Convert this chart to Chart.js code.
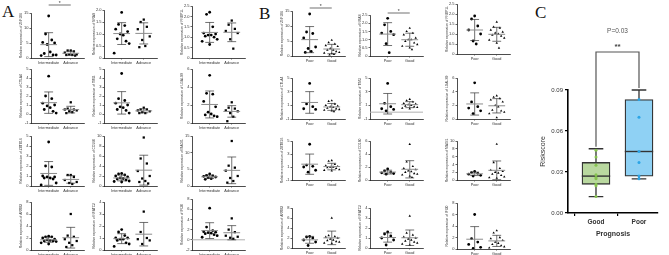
<!DOCTYPE html>
<html lang="en">
<head>
<meta charset="UTF-8">
<title>Relative expression and riskscore</title>
<script src="https://cdn.jsdelivr.net/npm/chart.js"></script>
<style>
  body { margin: 0; width: 669px; height: 255px; overflow: hidden; background: #fff; position: relative; }
  .letter { position: absolute; font-family: "Liberation Serif", "DejaVu Serif", serif; font-size: 17px; line-height: 1; color: #111; }
  canvas { position: absolute; }
</style>
</head>
<body>
<div class="letter" style="left:2px;top:3px">A</div>
<div class="letter" style="left:259px;top:5px">B</div>
<div class="letter" style="left:535px;top:4px">C</div>

<script>
// ---- data ----
const genes = ['ZNF366', 'NRAS', 'FNBP1L', 'CTLA4', 'TIM3', 'LGALS9', 'ZBTB16', 'CD160', 'MAGI1', 'ARRB2', 'NFATC2', 'IFI30'];
const groupsA = ['Intermediate', 'Advance'];
const groupsB = ['Poor', 'Good'];

// [min, max, step]
const axisA = [[0,15,5],[0,2,0.5],[0,2.5,0.5],[-1,5,1],[-1,5,1],[0,6,2],[0,5,1],[0,10,2],[0,15,5],[0,8,2],[0,4,1],[-2,8,2]];
const axisB = [[0,15,5],[0,2.5,0.5],[0,2.5,0.5],[-1,5,1],[-1,5,1],[0,6,2],[-1,5,1],[0,6,2],[0,10,2],[0,8,2],[0,4,1],[0,8,2]];

const intermediate = [
  [14, 8, 6, 5.2, 5, 4.5, 2, 1.5, 1, 1, 0.8],
  [1.9, 1.4, 1.35, 1.2, 1.1, 1.0, 0.95, 0.8, 0.7, 0.6, 0.2],
  [2.2, 2.1, 1.5, 1.2, 1.15, 1.1, 1.1, 1.05, 1.0, 0.9, 0.8, 0.65],
  [4.2, 2.0, 1.7, 1.2, 1.0, 0.9, 0.7, 0.5, 0.3, 0.1],
  [4.5, 1.7, 1.5, 1.2, 1.0, 0.8, 0.7, 0.5, 0.4, 0.1],
  [5.3, 3.3, 3.2, 2.4, 1.8, 1.2, 1.0, 0.9, 0.8, 0.7],
  [4.4, 2.0, 1.9, 1.0, 0.9, 0.9, 0.8, 0.8, 0.7, 0.3, 0.1],
  [2.5, 2.4, 2.2, 2.0, 1.8, 1.6, 1.5, 1.4, 1.2, 1.0, 0.9, 0.8],
  [3.6, 3.2, 3.0, 2.9, 2.7, 2.5, 2.2, 2.0],
  [2.3, 2.2, 2.2, 2.0, 1.8, 1.7, 1.6, 1.5, 1.5, 1.4, 1.2, 1.0],
  [1.7, 1.5, 1.2, 1.0, 1.0, 0.9, 0.9, 0.8, 0.6, 0.5, 0.3],
  [6.2, 2.5, 1.8, 1.6, 1.5, 1.4, 1.3, 1.2, 1.0, 0.8, 0.5]
];
const advance = [
  [2.5, 2.5, 2.2, 1.8, 1.2, 1.2, 1.0, 1.0, 0.8],
  [1.6, 1.5, 1.3, 1.2, 0.9, 0.75, 0.5, 0.45],
  [1.8, 1.6, 1.4, 1.3, 1.2, 0.9, 0.45],
  [1.3, 0.6, 0.5, 0.5, 0.4, 0.3, 0.2, 0.1],
  [0.7, 0.5, 0.5, 0.4, 0.3, 0.2, 0.1, 0.1],
  [2.3, 1.7, 1.6, 1.4, 1.3, 1.1, 0.7, 0.2],
  [1.1, 1.1, 0.9, 0.6, 0.4, 0.3, 0.2],
  [9.7, 5.5, 4.5, 3.0, 2.0, 1.5, 1.0, 0.8, 0.5],
  [13.5, 6.1, 5.5, 4.6, 3.0, 2.4, 1.5, 1.0],
  [6.0, 2.4, 2.2, 1.8, 1.5, 1.2, 0.8, 0.5],
  [3.2, 1.5, 1.0, 0.9, 0.8, 0.5],
  [4.2, 2.0, 1.5, 0.8, 0.6, 0.4, 0.2]
];
const poor = [
  [14, 8, 7.5, 6, 3, 2.5, 1.5, 1.2],
  [2.3, 1.9, 1.5, 1.4, 1.3, 0.75, 0.2],
  [1.9, 1.75, 1.4, 1.2, 1.0, 0.65, 0.5],
  [4.2, 1.2, 0.8, 0.5, 0.4],
  [4.2, 1.3, 0.8, 0.5, 0.4, 0.2],
  [5.3, 2.5, 1.8, 1.6, 1.2, 0.8],
  [4.5, 1.3, 1.1, 1.0, 0.5, 0.2],
  [1.7, 1.4, 1.2, 1.1, 1.0, 0.9],
  [2.2, 1.9, 1.7, 1.5, 1.2, 1.0],
  [2.3, 2.2, 2.0, 1.6, 1.2, 0.5],
  [1.6, 1.4, 1.2, 1.0, 0.8, 0.3],
  [6.0, 1.8, 1.2, 0.8, 0.3, 0.1]
];
const good = [
  [5.3, 4.5, 4.0, 3.5, 3.2, 2.5, 2.0, 2.0, 1.5, 1.2, 1.0, 0.8, 0.6, 0.4],
  [1.7, 1.5, 1.4, 1.3, 1.1, 1.0, 1.0, 0.9, 0.8, 0.7, 0.6, 0.5, 0.4],
  [1.6, 1.35, 1.3, 1.2, 1.1, 1.05, 1.0, 0.95, 0.9, 0.8, 0.7, 0.55, 0.3],
  [1.7, 1.6, 1.2, 1.0, 0.9, 0.8, 0.7, 0.6, 0.5, 0.4, 0.3, 0.2, 0.1],
  [1.9, 1.7, 1.5, 1.3, 1.2, 1.1, 1.0, 0.9, 0.8, 0.7, 0.6, 0.5],
  [3.4, 3.2, 3.0, 2.8, 2.5, 2.0, 1.8, 1.3, 1.2, 1.0, 0.8, 0.2],
  [2.0, 1.9, 1.4, 1.2, 1.1, 1.0, 1.0, 0.9, 0.8, 0.6, 0.5, 0.4],
  [5.5, 2.8, 2.1, 1.8, 1.6, 1.4, 1.3, 1.2, 1.0, 0.9, 0.8, 0.6, 0.4],
  [9.2, 4.5, 3.0, 2.5, 2.2, 2.0, 1.8, 1.5, 1.2, 0.8, 0.6, 0.5],
  [6.0, 2.5, 2.3, 2.2, 2.0, 1.8, 1.6, 1.5, 1.3, 1.2, 1.0, 0.9],
  [3.2, 1.5, 1.3, 1.1, 1.0, 0.9, 0.8, 0.7, 0.6, 0.5, 0.4, 0.3],
  [3.2, 2.8, 2.0, 1.8, 1.5, 1.2, 1.0, 0.8, 0.6, 0.4, 0.2]
];

// panel C
const prognosis = ['Good', 'Poor'];
const riskGood = [0.046, 0.041, 0.035, 0.028, 0.026, 0.025, 0.021, 0.020, 0.012];
const riskPoor = [0.083, 0.070, 0.045, 0.037, 0.027, 0.025];
const boxMin = [0.012, 0.025];
const boxQ1 = [0.021, 0.027];
const boxMed = [0.027, 0.045];
const boxQ3 = [0.037, 0.083];
const boxMax = [0.047, 0.090];

// ---- layout (pixels on the page) ----
const colXA = [31, 104, 192], colXB = [292, 370, 457];
const topA = [13,10,6, 69,69,69, 136,136,136, 202,202,199];
const botA = [57,57,57, 122,122,122, 185,185,185, 249,249,249];
const topB = [11,15,4, 78,78,78, 141,141,141, 208,208,203];
const botB = [55,55,53, 118,118,118, 179,179,179, 247,247,248];
const jitter = [0, -0.14, 0.14, -0.27, 0.27, -0.07, 0.07, -0.2, 0.2, 0.34, -0.34, 0, 0.1, -0.1];

Chart.defaults.font.family = '"Liberation Sans", Arial, sans-serif';

const meanSd = {
  id: 'meanSd',
  beforeDatasetsDraw(chart, args, opts) {
    if (!opts.zero) return;
    const {ctx, chartArea, scales: {y}} = chart;
    const y0 = y.getPixelForValue(0);
    ctx.save();
    ctx.strokeStyle = '#b0b0b0';
    ctx.lineWidth = 1;
    ctx.beginPath(); ctx.moveTo(chartArea.left, y0); ctx.lineTo(chartArea.right, y0); ctx.stroke();
    ctx.restore();
  },
  afterDatasetsDraw(chart, args, opts) {
    const {ctx, chartArea, scales: {x, y}} = chart;
    ctx.save();
    ctx.beginPath();
    ctx.rect(chartArea.left, chartArea.top - 1, chartArea.width, chartArea.height + 1);
    ctx.clip();
    chart.data.datasets.forEach((ds, g) => {
      const vals = ds.data.map(p => p.y);
      const m = vals.reduce((a, b) => a + b, 0) / vals.length;
      const sd = Math.sqrt(vals.reduce((a, b) => a + (b - m) ** 2, 0) / (vals.length - 1));
      const cx = x.getPixelForValue(g);
      const capW = x.getPixelForValue(g + 0.2) - cx;
      const meanW = x.getPixelForValue(g + 0.38) - cx;
      const yTop = y.getPixelForValue(m + sd), yBot = y.getPixelForValue(m - sd), yM = y.getPixelForValue(m);
      ctx.strokeStyle = '#333';
      ctx.lineWidth = 0.7;
      ctx.beginPath();
      ctx.moveTo(cx, yTop); ctx.lineTo(cx, yBot);
      ctx.moveTo(cx - capW, yTop); ctx.lineTo(cx + capW, yTop);
      ctx.moveTo(cx - capW, yBot); ctx.lineTo(cx + capW, yBot);
      ctx.stroke();
      ctx.strokeStyle = '#8c8c8c';
      ctx.lineWidth = 1;
      ctx.beginPath();
      ctx.moveTo(cx - meanW, yM); ctx.lineTo(cx + meanW, yM);
      ctx.stroke();
    });
    ctx.restore();
    if (opts.sig) {
      const x0 = x.getPixelForValue(0), x1 = x.getPixelForValue(1);
      const yl = chartArea.top - opts.sig;
      ctx.save();
      ctx.strokeStyle = '#333';
      ctx.lineWidth = 0.7;
      ctx.beginPath(); ctx.moveTo(x0, yl); ctx.lineTo(x1, yl); ctx.stroke();
      ctx.fillStyle = '#333';
      ctx.font = '5px "Liberation Sans"';
      ctx.textAlign = 'center';
      ctx.fillText('*', (x0 + x1) / 2, yl - 0.5);
      ctx.restore();
    }
  }
};

function dotPlot(axisX, axisTop, axisBot, gene, groups, g1, g2, ax, styles, sig, zeroLine) {
  const left = axisX - 12, top = axisTop - 12;
  const w = axisX + 57 - left, h = axisBot + 10 - top;
  const cv = document.createElement('canvas');
  cv.width = w; cv.height = h;
  cv.style.left = left + 'px'; cv.style.top = top + 'px';
  cv.style.width = w + 'px'; cv.style.height = h + 'px';
  document.body.appendChild(cv);
  new Chart(cv, {
    type: 'scatter',
    data: {
      datasets: [g1, g2].map((vals, g) => ({
        data: vals.map((v, i) => ({x: g + jitter[i % jitter.length], y: v})),
        pointStyle: styles[g],
        pointRadius: styles[g] === 'rect' ? 1.6 : 1.4,
        backgroundColor: '#000',
        borderColor: '#000',
        borderWidth: 0
      }))
    },
    options: {
      responsive: false, animation: false, events: [],
      layout: {padding: {top: 12, right: 2, left: 0, bottom: 0}},
      plugins: {legend: {display: false}, tooltip: {enabled: false}, meanSd: {sig: sig, zero: zeroLine}},
      scales: {
        x: {
          type: 'linear', min: -0.8, max: 1.6,
          afterBuildTicks: s => { s.ticks = [{value: 0}, {value: 1}]; },
          afterFit: s => { s.height = 9; },
          ticks: {font: {size: 3.8}, color: '#333', padding: 1, maxRotation: 0, autoSkip: false,
                  callback: v => groups[v]},
          grid: {display: true, drawOnChartArea: false, tickLength: 1.5, color: '#000', lineWidth: 0.6},
          border: {color: '#000', width: 0.7}
        },
        y: {
          min: ax[0], max: ax[1],
          afterFit: s => { s.width = 12; },
          ticks: {stepSize: ax[2], font: {size: 4}, color: '#333', padding: 1},
          title: {display: true, text: 'Relative expression of ' + gene, font: {size: 3.3}, color: '#333', padding: 0},
          grid: {display: true, drawOnChartArea: false, tickLength: 1.5, lineWidth: 0.6, color: '#000'},
          border: {color: '#000', width: 0.7}
        }
      }
    },
    plugins: [meanSd]
  });
}

for (let i = 0; i < 12; i++) {
  const c = i % 3;
  dotPlot(colXA[c], topA[i], botA[i], genes[i], groupsA, intermediate[i], advance[i], axisA[i],
          ['circle', 'rect'], i === 0 ? 8 : 0, i === 11);
  dotPlot(colXB[c], topB[i], botB[i], genes[i], groupsB, poor[i], good[i], axisB[i],
          ['circle', 'triangle'], i === 0 ? 3 : (i === 1 ? 2 : 0), i === 4);
}

// ---- panel C: box plot ----
const boxPlugin = {
  id: 'boxParts',
  beforeDatasetsDraw(chart) {
    const {ctx, scales: {x, y}} = chart;
    ctx.save();
    ctx.strokeStyle = '#333';
    ctx.lineWidth = 1.3;
    prognosis.forEach((p, i) => {
      const cx = x.getPixelForValue(i);
      const cap = x.getPixelForValue(i + 0.17) - cx;
      ctx.beginPath();
      ctx.moveTo(cx, y.getPixelForValue(boxQ3[i])); ctx.lineTo(cx, y.getPixelForValue(boxMax[i]));
      ctx.moveTo(cx, y.getPixelForValue(boxQ1[i])); ctx.lineTo(cx, y.getPixelForValue(boxMin[i]));
      ctx.moveTo(cx - cap, y.getPixelForValue(boxMax[i])); ctx.lineTo(cx + cap, y.getPixelForValue(boxMax[i]));
      ctx.moveTo(cx - cap, y.getPixelForValue(boxMin[i])); ctx.lineTo(cx + cap, y.getPixelForValue(boxMin[i]));
      ctx.stroke();
    });
    // significance bracket (canvas starts 20px below page top)
    const x0 = x.getPixelForValue(0), x1 = x.getPixelForValue(1);
    const yb = 32;
    ctx.strokeStyle = '#555';
    ctx.lineWidth = 1.2;
    ctx.beginPath();
    ctx.moveTo(x0, y.getPixelForValue(boxMax[0]) - 2); ctx.lineTo(x0, yb);
    ctx.lineTo(x1, yb); ctx.lineTo(x1, y.getPixelForValue(boxMax[1]) - 2);
    ctx.stroke();
    ctx.fillStyle = '#444';
    ctx.textAlign = 'center';
    ctx.font = 'bold 8px "Liberation Sans"';
    ctx.fillText('**', (x0 + x1) / 2, yb - 3);
    ctx.fillStyle = '#555';
    ctx.font = '6.5px "Liberation Sans"';
    ctx.fillText('P=0.03', (x0 + x1) / 2, yb - 19);
    ctx.restore();
  },
  afterDatasetDraw(chart, args) {
    if (args.index !== 0) return;
    const {ctx, scales: {x, y}} = chart;
    ctx.save();
    ctx.strokeStyle = '#333';
    ctx.lineWidth = 1.4;
    prognosis.forEach((p, i) => {
      const cx = x.getPixelForValue(i);
      const hw = x.getPixelForValue(i + 0.33) - cx;
      const ym = y.getPixelForValue(boxMed[i]);
      ctx.beginPath(); ctx.moveTo(cx - hw, ym); ctx.lineTo(cx + hw, ym); ctx.stroke();
    });
    ctx.restore();
  }
};

const cvC = document.createElement('canvas');
cvC.width = 131; cvC.height = 222;
cvC.style.left = '538px'; cvC.style.top = '20px';
cvC.style.width = '131px'; cvC.style.height = '222px';
document.body.appendChild(cvC);
new Chart(cvC, {
  type: 'bar',
  data: {
    datasets: [
      {
        type: 'bar',
        data: prognosis.map((p, i) => ({x: i, y: [boxQ1[i], boxQ3[i]]})),
        backgroundColor: ['#b9d89f', '#8fd1f4'],
        borderColor: '#333', borderWidth: 1.3, borderSkipped: false,
        barThickness: 28, order: 2
      },
      {type: 'scatter', data: riskGood.map(v => ({x: 0, y: v})), backgroundColor: '#86c34f', borderWidth: 0, pointRadius: 1.5, order: 1},
      {type: 'scatter', data: riskPoor.map(v => ({x: 1, y: v})), backgroundColor: '#2ba5e6', borderWidth: 0, pointRadius: 1.5, order: 1}
    ]
  },
  options: {
    responsive: false, animation: false, events: [],
    layout: {padding: {top: 70, right: 11, left: 0, bottom: 0}},
    plugins: {legend: {display: false}, tooltip: {enabled: false}},
    scales: {
      x: {
        type: 'linear', min: -0.651, max: 1.442, offset: false,
        afterBuildTicks: s => { s.ticks = [{value: 0}, {value: 1}]; },
        afterFit: s => { s.height = 29; },
        ticks: {font: {size: 6.5, weight: 'bold'}, color: '#333', padding: 2, maxRotation: 0, autoSkip: false,
                callback: v => prognosis[v]},
        title: {display: true, text: 'Prognosis', font: {size: 7, weight: 'bold'}, color: '#333', padding: {top: 1}},
        grid: {display: true, drawOnChartArea: false, tickLength: 3, color: '#000', lineWidth: 1.2},
        border: {color: '#000', width: 1.6}
      },
      y: {
        min: 0, max: 0.09,
        afterFit: s => { s.width = 30; },
        ticks: {stepSize: 0.03, font: {size: 6}, color: '#333', padding: 2, callback: v => v.toFixed(2)},
        title: {display: true, text: 'Riskscore', font: {size: 7}, color: '#333', padding: 1},
        grid: {display: true, drawOnChartArea: false, tickLength: 3, color: '#000', lineWidth: 1.2},
        border: {color: '#000', width: 1.6}
      }
    }
  },
  plugins: [boxPlugin]
});
</script>
</body>
</html>
